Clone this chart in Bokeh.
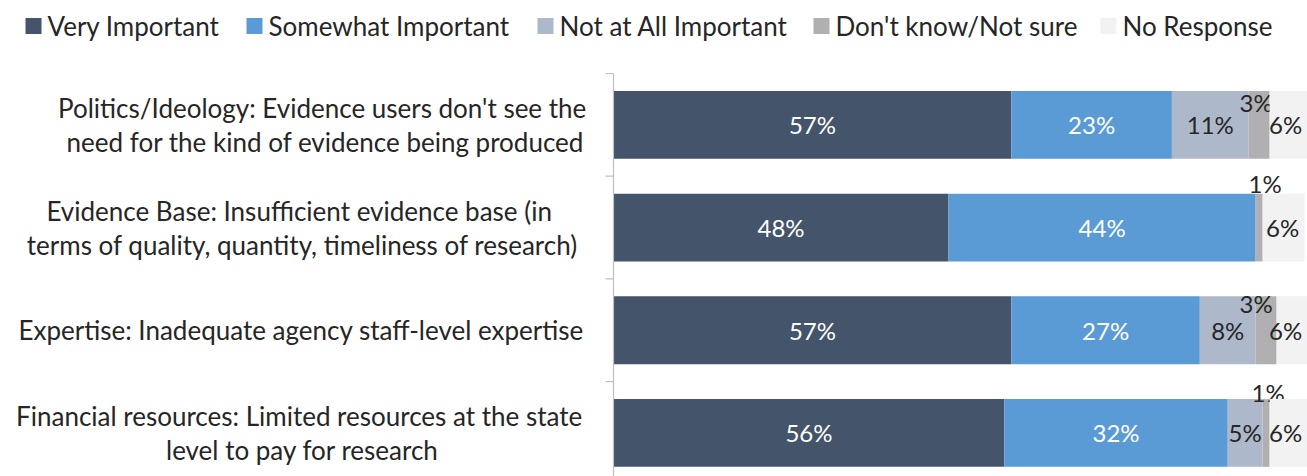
from bokeh.plotting import figure
from bokeh.models import Range1d, ColumnDataSource
from bokeh.core.properties import value
from bokeh.embed import file_html
from bokeh.resources import INLINE

# ---- data ----
categories = [
    ["Politics/Ideology:  Evidence users don't see the", "need for the kind of evidence being produced"],
    ["Evidence Base:  Insufficient evidence base (in", "terms of quality, quantity, timeliness of research)"],
    ["Expertise:  Inadequate agency staff-level expertise"],
    ["Financial resources:  Limited resources at the state", "level to pay for research"],
]
series = ["Very Important", "Somewhat Important", "Not at All Important", "Don't know/Not sure", "No Response"]
very_important = [57, 48, 57, 56]
somewhat_important = [23, 44, 27, 32]
not_at_all_important = [11, 0, 8, 5]
dont_know = [3, 1, 3, 1]
no_response = [6, 6, 6, 6]
values = [very_important, somewhat_important, not_at_all_important, dont_know, no_response]

# ---- style / layout ----
colors = ["#44546A", "#5B9BD5", "#ADB9CA", "#B0B0B2", "#F2F2F3"]
label_colors = ["white", "white", "#262626", "#262626", "#262626"]
FONT = "Lato"
FS_DATA = "24px"
FS_TEXT = "26px"
TXT = "#262626"
W, H = 1307, 476
PX_X = 6.98      # pixels per percent
PX_Y = 102.7     # pixels per category band
AX_X = 613       # page x of the value axis (0%)
AX_TOP = 73      # page y of the top of the category axis
dk_nudge = [(-3, 12), (6, -10), (-10, 7), (2, -7)]   # small-label nudges, px
nr_nudge = [-5, -1, -12, -5]
label_centres = [325, 302, 304, 302]                 # page x of category label blocks
legend_left = [25, 246, 537, 813, 1100]              # page x of legend swatches
LEGEND_Y = 25.5


def px_x(px):
    return (px - AX_X) / PX_X


def px_y(py):
    return (py - AX_TOP) / PX_Y


n = len(categories)
centers = [r + 0.5 for r in range(n)]
bar_h = 0.66

p = figure(width=W, height=H,
           x_range=Range1d(px_x(0), px_x(W)), y_range=Range1d(px_y(H), px_y(0)),
           output_backend="svg", toolbar_location=None,
           min_border_left=0, min_border_right=0, min_border_top=0, min_border_bottom=0)

left = [0.0] * n
for s, vals in enumerate(values):
    right = [l + v for l, v in zip(left, vals)]
    src = ColumnDataSource(dict(y=centers, left=left, right=right))
    p.hbar(y="y", left="left", right="right", height=bar_h, source=src,
           fill_color=colors[s], line_color=None)
    xs, ys, ts = [], [], []
    for i, v in enumerate(vals):
        if v <= 0:
            continue
        cx = (left[i] + right[i]) / 2
        cy = centers[i]
        if s == 3:
            cx += dk_nudge[i][0] / PX_X
            cy = centers[i] - bar_h / 2 + dk_nudge[i][1] / PX_Y
        if s == 4:
            cx += nr_nudge[i] / PX_X
        xs.append(cx); ys.append(cy); ts.append(f"{v}%")
    p.text(x=xs, y=ys, text=ts, text_font=value(FONT), text_font_size=FS_DATA,
           text_color=label_colors[s], text_align="center", text_baseline="middle")
    left = right

# category labels
lx, ly, lt = [], [], []
for i, lines in enumerate(categories):
    k = len(lines)
    for j, line in enumerate(lines):
        lx.append(px_x(label_centres[i]))
        ly.append(centers[i] + (j - (k - 1) / 2) * 34 / PX_Y)
        lt.append(line)
p.text(x=lx, y=ly, text=lt, text_font=value(FONT), text_font_size=FS_TEXT,
       text_color=TXT, text_align="center", text_baseline="middle")

# category axis line and tick marks at band boundaries
p.segment(x0=[0], y0=[0], x1=[0], y1=[px_y(H)], line_color="#BFBFBF", line_width=1.2)
p.segment(x0=[px_x(AX_X - 8)] * (n + 1), y0=list(range(n + 1)),
          x1=[0] * (n + 1), y1=list(range(n + 1)), line_color="#BFBFBF", line_width=1.2)

# legend
p.rect(x=[px_x(l + 8) for l in legend_left], y=[px_y(LEGEND_Y)] * len(series),
       width=16, height=16, width_units="screen", height_units="screen",
       fill_color=colors, line_color=None)
p.text(x=[px_x(l + 22) for l in legend_left], y=[px_y(LEGEND_Y)] * len(series), text=series,
       text_font=value(FONT), text_font_size=FS_TEXT, text_color=TXT,
       text_align="left", text_baseline="middle")

p.xaxis.visible = False
p.yaxis.visible = False
p.xgrid.visible = False
p.ygrid.visible = False
p.outline_line_color = None

open("out.html", "w").write(file_html(p, INLINE))
